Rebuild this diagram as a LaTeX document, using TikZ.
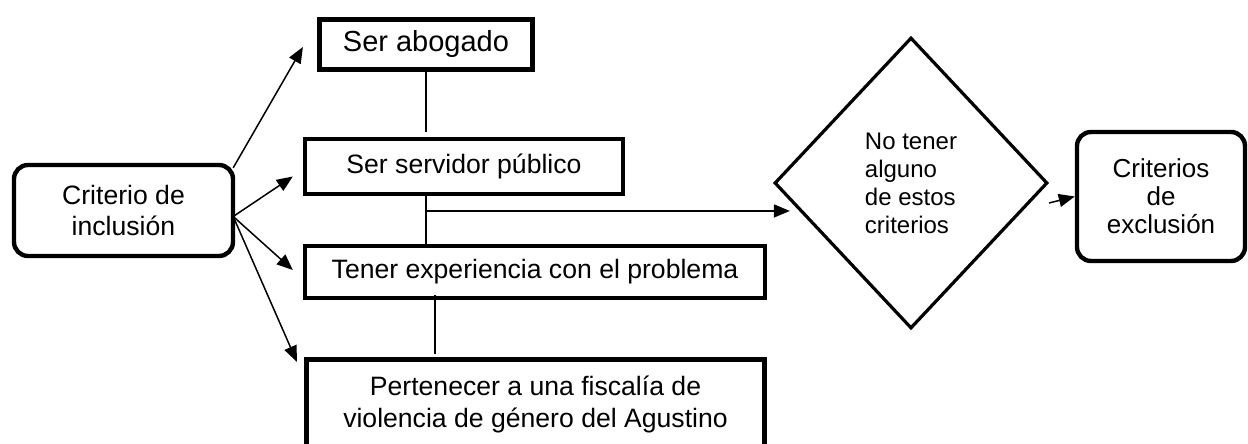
\documentclass[tikz,border=0pt]{standalone}
\usepackage{fontspec}
\setmainfont{Liberation Sans}
\usetikzlibrary{positioning, arrows.meta, shapes.geometric}
\tikzset{
  rect1/.style = {
    shape = rectangle,
    draw = black,
    line width = 2.2pt,
    align = center,
    inner sep = 0pt,
    font = \fontsize{13.3}{15.5}\selectfont,
  },
  rect2/.style = {
    rect1,
    rounded corners = 7pt,
  }
}
\tikzset{
  arrow1/.style = {
    draw = black, line width = 0.75pt, -{Triangle[length = 8pt, width = 6.5pt]},
  },
  line1/.style = {
    draw = black, line width = 0.75pt,
  }
}

\begin{document}
\begin{tikzpicture}[x = 0.5pt, y = -0.5pt]
    \useasboundingbox (0,0) rectangle (1248,444);
    \clip (0,0) rectangle (1248,444);
        \node[rect2, minimum width = 109.5pt, minimum height = 45.5pt](1) at (123.5,210.5){Criterio de\\inclusión};
        \node[rect1, line width = 2.6pt, minimum width = 106.5pt, minimum height = 25pt, font = \fontsize{14.5}{17}\selectfont](2) at (426,44.5){Ser abogado};
        \node[rect1, minimum width = 159pt, minimum height = 27.5pt](3) at (464,166.5){Ser servidor público};
        \node[rect1, minimum width = 230pt, minimum height = 26pt](4) at (535,272){Tener experiencia con el problema};
        \node[rect1, line width = 2.6pt, minimum width = 229pt, minimum height = 44.5pt, font = \fontsize{13.3}{16}\selectfont](5) at (535.5,404){Pertenecer a una fiscalía de\\violencia de género del Agustino};
        \node[shape = diamond, draw = black, line width = 1.6pt, inner sep = 0pt, align = left, minimum width = 136.5pt, minimum height = 145.5pt, font = \fontsize{12}{14}\selectfont](6) at (911,183){No tener\\alguno\\de estos\\criterios};
        \node[rect2, minimum width = 84pt, minimum height = 64.5pt, font = \fontsize{13}{14}\selectfont](7) at (1161,196.5){Criterios\\de\\exclusión};
        \coordinate (hub) at ([xshift = -1pt, yshift = -3pt]1.east);
        \draw[arrow1]([xshift = -1pt, yshift = -2.5pt]1.north east) -- ([xshift = -7pt, yshift = -1.25pt]2.west);
        \draw[arrow1](hub) -- ([xshift = -5pt, yshift = -5pt]3.west);
        \draw[arrow1](hub) -- ([xshift = -5pt, yshift = 1pt]4.west);
        \draw[arrow1](hub) -- ([xshift = -3.5pt, yshift = -2.5pt]5.north west);
        \draw[line1]([yshift = 2.5pt]2.south) -- ([yshift = 2.5pt]2.south |- 3.north);
        \draw[line1](2.south |- 3.south) -- coordinate[pos = 0.31](s) (2.south |- 4.north);
        \draw[arrow1](s) -- ([xshift = 8.5pt]s -| 6.west);
        \draw[line1]([xshift = -50pt, yshift = 2.5pt]4.south) -- ([xshift = -50pt, yshift = 1.5pt]4.south |- 5.north);
        \draw[arrow1]([yshift = -10pt]6.east) -- (7.west);
    \end{tikzpicture}
\end{document}
